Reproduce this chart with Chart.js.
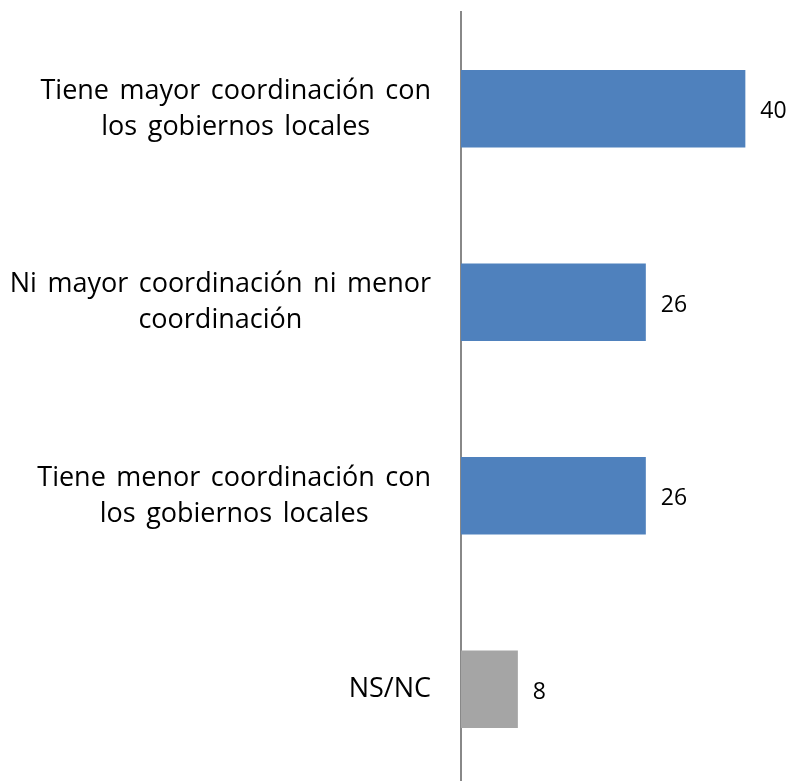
<!DOCTYPE html>
<html>
<head>
<meta charset="utf-8">
<script src="https://cdn.jsdelivr.net/npm/chart.js@4.4.1/dist/chart.umd.min.js"></script>
<style>
html,body{margin:0;padding:0;background:#fff;overflow:hidden;}
#wrap{position:relative;width:790px;height:788px;}
</style>
</head>
<body>
<div id="wrap"><canvas id="c"></canvas></div>
<script>
const categories = [
  ["Tiene mayor coordinación con", "los gobiernos locales"],
  ["Ni mayor coordinación ni menor", "coordinación"],
  ["Tiene menor coordinación con", "los gobiernos locales"],
  ["NS/NC"]
];
const values = [40, 26, 26, 8];
const barColors = ["#4F81BD", "#4F81BD", "#4F81BD", "#A5A5A5"];

const FONT = "'Open Sans'";
const LABEL_SIZE = 27;
const VALUE_SIZE = 23;

const labelPlugin = {
  id: 'labelPlugin',
  afterDraw(chart) {
    const ctx = chart.ctx;
    const yScale = chart.scales.y;
    const meta = chart.getDatasetMeta(0);
    ctx.save();
    ctx.fillStyle = '#000';
    ctx.textBaseline = 'alphabetic';
    ctx.font = LABEL_SIZE + 'px ' + FONT;
    if ('wordSpacing' in ctx) ctx.wordSpacing = '3.5px';
    const right = 431;
    const lh = 36;
    categories.forEach((lines, i) => {
      const cy = yScale.getPixelForValue(i);
      let maxW = 0;
      lines.forEach(l => { maxW = Math.max(maxW, ctx.measureText(l).width); });
      const cx = right - maxW / 2;
      ctx.textAlign = 'center';
      const n = lines.length;
      lines.forEach((l, k) => {
        ctx.fillText(l, cx, cy + 8 + (k - (n - 1) / 2) * lh);
      });
    });
    if ('wordSpacing' in ctx) ctx.wordSpacing = '0px';
    ctx.font = VALUE_SIZE + 'px ' + FONT;
    ctx.textAlign = 'left';
    meta.data.forEach((bar, i) => {
      ctx.fillText(String(values[i]), bar.x + 15, bar.y + 9.5);
    });
    ctx.restore();
  }
};

new Chart(document.getElementById('c'), {
  type: 'bar',
  data: {
    labels: categories,
    datasets: [{
      data: values,
      backgroundColor: barColors,
      borderWidth: 0,
      categoryPercentage: 1.0,
      barPercentage: 0.4
    }]
  },
  options: {
    indexAxis: 'y',
    responsive: true,
    maintainAspectRatio: false,
    animation: false,
    events: [],
    layout: { padding: { top: 12, bottom: 2, right: 2, left: 0 } },
    plugins: { legend: { display: false }, tooltip: { enabled: false } },
    scales: {
      x: {
        display: false,
        min: 0,
        max: 46
      },
      y: {
        display: true,
        ticks: { display: false },
        grid: { display: false, drawTicks: false },
        border: { display: true, color: '#888888', width: 2 },
        afterFit(scale) { scale.width = 461; }
      }
    }
  },
  plugins: [labelPlugin]
});
</script>
</body>
</html>
